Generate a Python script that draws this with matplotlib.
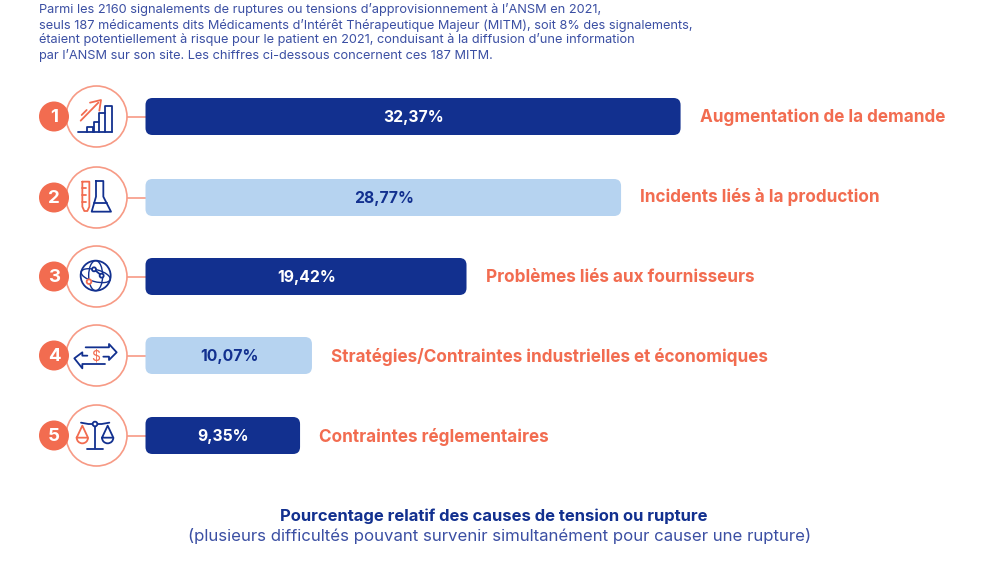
import numpy as np
import matplotlib
matplotlib.use("Agg")
import matplotlib.pyplot as plt
from matplotlib.patches import Circle, FancyBboxPatch, Ellipse, Arc

plt.rcParams['font.family'] = ['Inter', 'DejaVu Sans']

# Data
causes = ["Augmentation de la demande", "Incidents liés à la production",
          "Problèmes liés aux fournisseurs",
          "Stratégies/Contraintes industrielles et économiques",
          "Contraintes réglementaires"]
values = [32.37, 28.77, 19.42, 10.07, 9.35]
ranks = ["1", "2", "3", "4", "5"]

intro = ["Parmi les 2160 signalements de ruptures ou tensions d’approvisionnement à l’ANSM en 2021,",
         "seuls 187 médicaments dits Médicaments d’Intérêt Thérapeutique Majeur (MITM), soit 8% des signalements,",
         "étaient potentiellement à risque pour le patient en 2021, conduisant à la diffusion d’une information",
         "par l’ANSM sur son site. Les chiffres ci-dessous concernent ces 187 MITM."]
caption_bold = "Pourcentage relatif des causes de tension ou rupture"
caption = "(plusieurs difficultés pouvant survenir simultanément pour causer une rupture)"

NAVY = "#12308F"
LIGHT = "#B6D3F0"
ORANGE = "#F26C50"
PALE = "#F79A85"
BODY = "#3B4FA3"

bar_x = 145.5
bar_h = 37
px_per_pct = 16.53
row_y = [116.5, 197.5, 276.5, 355.5, 435.5]
label_y = [117, 196.5, 277.5, 357, 437]

fig = plt.figure(figsize=(10, 5.7), dpi=100)
ax = fig.add_axes([0, 0, 1, 1])
ax.set_xlim(0, 1000)
ax.set_ylim(570, 0)
ax.axis("off")


def pl(pts, ox, oy, color=NAVY, lw=1.3):
    pts = np.array(pts, dtype=float)
    ax.plot(pts[:, 0] / 3 + ox, pts[:, 1] / 3 + oy, color=color, lw=lw,
            solid_capstyle="round", solid_joinstyle="round", zorder=4)


def ring(x, y, r, ox, oy, color=NAVY, lw=1.3):
    ax.add_patch(Circle((x / 3 + ox, y / 3 + oy), r / 3, fc="white", ec=color, lw=lw, zorder=5))


def icon_chart(ox, oy):
    pl([(145, 155), (245, 155)], ox, oy)
    pl([(172, 155), (172, 140), (188, 140), (188, 155)], ox, oy)
    pl([(192, 155), (192, 125), (208, 125), (208, 155)], ox, oy)
    pl([(208, 125), (208, 100), (225, 100), (225, 155)], ox, oy)
    pl([(225, 100), (225, 78), (245, 78), (245, 155)], ox, oy)
    pl([(152, 122), (205, 68)], ox, oy, ORANGE)
    pl([(180, 68), (213, 60), (208, 92)], ox, oy, ORANGE)
    pl([(155, 105), (170, 90)], ox, oy, ORANGE)


def icon_flask(ox, oy):
    pl([(157, 305), (178, 305), (178, 380), (172, 393), (163, 393), (157, 380), (157, 305)], ox, oy, ORANGE)
    for y in [325, 345, 365]:
        pl([(157, y), (168, y)], ox, oy, ORANGE)
    pl([(198, 303), (220, 303), (220, 350), (243, 395), (185, 395), (198, 350), (198, 303)], ox, oy)
    pl([(193, 368), (230, 368)], ox, oy)


def icon_globe(ox, oy):
    cx, cy = 197 / 3 + ox, 107 / 3 + oy
    ax.add_patch(Circle((cx, cy), 15, fc="none", ec=NAVY, lw=1.3, zorder=4))
    ax.add_patch(Ellipse((cx, cy), 14, 30, fc="none", ec=NAVY, lw=1.0, zorder=4))
    ax.add_patch(Ellipse((cx, cy), 30, 12, angle=15, fc="none", ec=NAVY, lw=1.0, zorder=4))
    pl([(192, 88), (215, 107)], ox, oy)
    ring(192, 88, 6, ox, oy)
    ring(215, 107, 6, ox, oy)
    ring(177, 125, 7, ox, oy, ORANGE)


def icon_swap(ox, oy):
    pl([(167, 322), (237, 322), (237, 312), (260, 337), (237, 360), (237, 350), (220, 350)], ox, oy)
    pl([(172, 347), (157, 347), (157, 337), (133, 355), (157, 385), (157, 372), (225, 372)], ox, oy)
    ax.text(197 / 3 + ox, 350 / 3 + oy, "$", color=ORANGE, fontsize=10, ha="center", va="center", zorder=4)


def icon_scale(ox, oy):
    pl([(195, 88), (195, 160)], ox, oy)
    pl([(172, 162), (220, 162)], ox, oy)
    pl([(153, 83), (175, 87), (215, 87), (238, 83)], ox, oy)
    ring(195, 87, 7, ox, oy)
    for x, col in [(157, ORANGE), (233, NAVY)]:
        pl([(x - 17, 128), (x, 92), (x + 17, 128), (x - 17, 128)], ox, oy, col)
        ax.add_patch(Arc((x / 3 + ox, 128 / 3 + oy), 34 / 3, 34 / 3, theta1=0, theta2=180,
                         color=col, lw=1.3, zorder=4))


icons = [(icon_chart, 30, 80), (icon_flask, 30, 80), (icon_globe, 30, 240),
         (icon_swap, 30, 240), (icon_scale, 30, 395)]

for i, (name, val, rank, y, ly) in enumerate(zip(causes, values, ranks, row_y, label_y)):
    w = val * px_per_pct
    dark = i % 2 == 0
    ax.plot([127, bar_x], [y, y], color=PALE, lw=1.2, zorder=1)
    ax.add_patch(FancyBboxPatch((bar_x + 6, y - bar_h / 2 + 6), w - 12, bar_h - 12,
                                boxstyle="round,pad=6,rounding_size=7", fc=NAVY if dark else LIGHT,
                                ec="none", zorder=2))
    ax.text(bar_x + w / 2 + 0.5, y + 1, ("%.2f%%" % val).replace(".", ","), color="white" if dark else NAVY,
            fontsize=11.3, fontweight="bold", ha="center", va="center", zorder=3)
    ax.text(bar_x + w + 19, ly, name, color=ORANGE, fontsize=12.35, fontweight="bold",
            ha="left", va="center", zorder=3)
    # circle with icon, then number badge
    ax.add_patch(Circle((96.5, y), 30.5, fc="white", ec=PALE, lw=1.2, zorder=3))
    f, ox, oy = icons[i]
    f(ox, oy)
    ax.add_patch(Circle((54, y), 15, fc=ORANGE, ec="none", zorder=6))
    ax.text(54, y + 1, rank, color="white", fontsize=13.5, fontweight="bold", ha="center", va="center", zorder=7)

for line, y in zip(intro, [10, 25, 40, 55]):
    ax.text(39, y, line, color=BODY, fontsize=9.2, ha="left", va="center")

ax.text(493.5, 516.5, caption_bold, color=NAVY, fontsize=11.95, fontweight="bold", ha="center", va="center")
ax.text(500, 535.5, caption, color=BODY, fontsize=12.1, ha="center", va="center")

fig.savefig("out.png", dpi=100)
